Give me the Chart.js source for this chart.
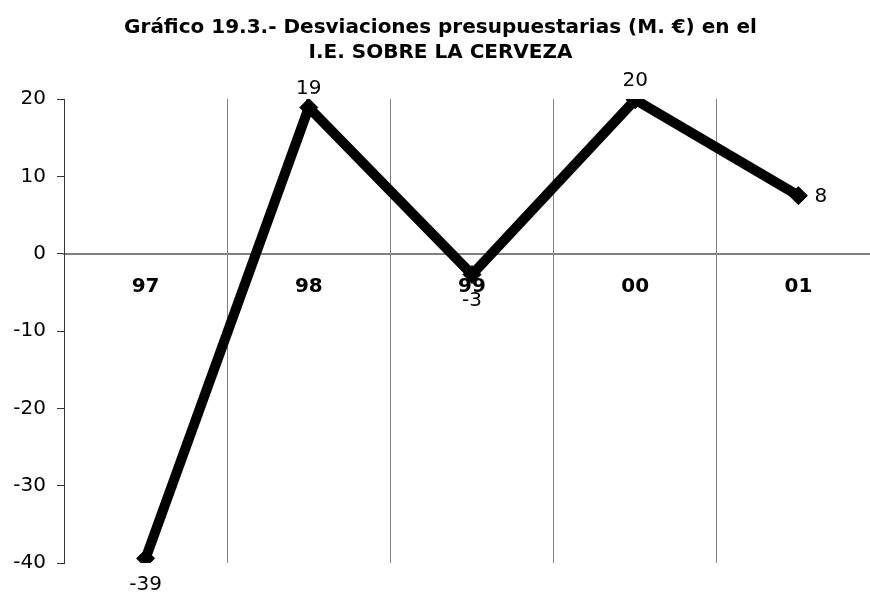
<!DOCTYPE html>
<html>
<head>
<meta charset="utf-8">
<script src="https://cdn.jsdelivr.net/npm/chart.js@4/dist/chart.umd.min.js"></script>
<style>
  html, body { margin: 0; padding: 0; background: #fff; overflow: hidden; }
  #wrap { width: 870px; height: 592px; overflow: hidden; }
</style>
</head>
<body>
<div id="wrap"><canvas id="c" width="890" height="592"></canvas></div>
<script>
// Desviaciones presupuestarias, I.E. sobre la cerveza
const years = ['97', '98', '99', '00', '01'];
const desviaciones = [-39.4, 18.9, -2.7, 19.9, 7.5];
const yTicks = [-40, -30, -20, -10, 0, 10, 20];

const labelSide = ['below', 'above', 'below', 'above', 'right'];

const valueLabels = {
  id: 'valueLabels',
  afterDatasetsDraw(chart) {
    const ctx = chart.ctx;
    const meta = chart.getDatasetMeta(0);
    ctx.save();
    ctx.font = '20px "DejaVu Sans"';
    ctx.fillStyle = '#000';
    ctx.textBaseline = 'middle';
    meta.data.forEach((pt, i) => {
      const txt = String(Math.round(desviaciones[i]));
      const side = labelSide[i];
      if (side === 'right') {
        ctx.textAlign = 'left';
        ctx.fillText(txt, pt.x + 16, pt.y + 1);
      } else if (side === 'above') {
        ctx.textAlign = 'center';
        ctx.fillText(txt, pt.x, pt.y - 19);
      } else {
        ctx.textAlign = 'center';
        ctx.fillText(txt, pt.x, pt.y + 26);
      }
    });
    ctx.restore();
  }
};

new Chart(document.getElementById('c'), {
  type: 'line',
  data: {
    labels: years,
    datasets: [{
      data: desviaciones,
      borderColor: '#000',
      backgroundColor: '#000',
      borderWidth: 10,
      tension: 0,
      pointStyle: 'rectRot',
      pointRadius: 9,
      pointHoverRadius: 9,
      pointBackgroundColor: '#000',
      pointBorderColor: '#000',
      pointBorderWidth: 1
    }]
  },
  options: {
    responsive: false,
    animation: false,
    layout: { padding: { left: 0, right: 9, top: 0, bottom: 29 } },
    plugins: {
      legend: { display: false },
      tooltip: { enabled: false },
      title: {
        display: true,
        text: ['Gráfico 19.3.- Desviaciones presupuestarias (M. €) en el', 'I.E. SOBRE LA CERVEZA'],
        color: '#000',
        font: { family: 'DejaVu Sans', size: 20, weight: 'bold', lineHeight: 1.25 },
        padding: { top: 15, bottom: 34 }
      }
    },
    scales: {
      x: {
        position: { y: 0 },
        offset: true,
        afterFit: s => { s.height = 0; },
        grid: { offset: true, color: '#808080', lineWidth: 1, drawTicks: false },
        border: { display: true, color: '#808080', width: 2 },
        ticks: {
          color: '#000',
          padding: 21,
          font: { family: 'DejaVu Sans', size: 20, weight: 'bold' }
        }
      },
      y: {
        min: -40,
        max: 20,
        afterFit: s => { s.width = 64; },
        afterBuildTicks: s => { s.ticks = yTicks.map(v => ({ value: v })); },
        grid: { drawOnChartArea: false, drawTicks: true, tickLength: 7, color: '#333' },
        border: { display: true, color: '#333', width: 1 },
        ticks: {
          color: '#000',
          padding: 11,
          font: { family: 'DejaVu Sans', size: 20 }
        }
      }
    }
  },
  plugins: [valueLabels]
});
</script>
</body>
</html>
